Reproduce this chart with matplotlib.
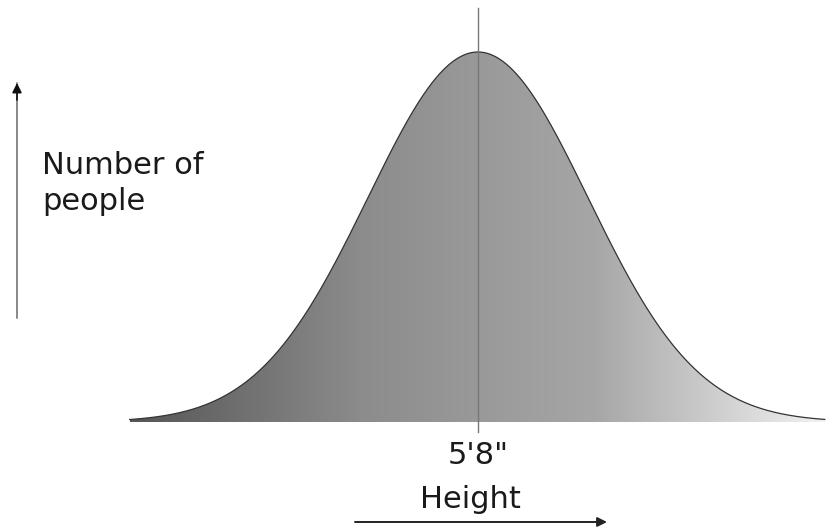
import numpy as np
import matplotlib
matplotlib.use("Agg")
import matplotlib.pyplot as plt
from matplotlib.patches import Polygon

# Height distribution parameters (inches)
mean_height = 68.0          # 5'8"
sd_height = 3.0
x_min, x_max = 58.5, 77.46
center_label = "5'8\""
x_label = "Height"
y_label = "Number of\npeople"

W, H = 834, 529
fig = plt.figure(figsize=(W / 100, H / 100), dpi=100)
ax = fig.add_axes([0, 0, 1, 1])
ax.set_xlim(54.965, 54.965 + W / 36.667)
ax.set_ylim(-(H - 422) / 370, 422 / 370)
ax.axis("off")

x = np.linspace(x_min, x_max, 600)
y = np.exp(-0.5 * ((x - mean_height) / sd_height) ** 2)

# gradient fill clipped to the curve
verts = np.column_stack([np.r_[x, x[::-1]], np.r_[y, np.zeros_like(y)]])
poly = Polygon(verts, closed=True, facecolor="none", edgecolor="none")
ax.add_patch(poly)
grad = np.linspace(0, 1, 512)[None, :]
cmap = matplotlib.colors.LinearSegmentedColormap.from_list(
    "g", ["#565656", "#8c8c8c", "#a6a6a6", "#f2f2f2"])
im = ax.imshow(grad, extent=[x_min, x_max, 0, 1.0], aspect="auto",
               cmap=cmap, origin="lower", zorder=1, interpolation="bilinear")
im.set_clip_path(poly)

ax.plot(x, y, color="#333333", lw=0.9, zorder=2)

# vertical line at the mean
ax.plot([mean_height, mean_height], [-10 / 370, 414 / 370],
        color="#777777", lw=1.0, zorder=3)

# axis arrows
ax.annotate("", xy=(17 / W, 1 - 83 / H), xytext=(17 / W, 1 - 318 / H),
            xycoords="figure fraction", textcoords="figure fraction",
            arrowprops=dict(arrowstyle="-", color="#888888", lw=1.4,
                            shrinkA=0, shrinkB=0))
ax.annotate("", xy=(17 / W, 1 - 83 / H), xytext=(17 / W, 1 - 100 / H),
            xycoords="figure fraction", textcoords="figure fraction",
            arrowprops=dict(arrowstyle="-|>", color="#111111", lw=1.2,
                            mutation_scale=14, shrinkA=0, shrinkB=0))
ax.annotate("", xy=(607 / W, 1 - 522 / H), xytext=(355 / W, 1 - 522 / H),
            xycoords="figure fraction", textcoords="figure fraction",
            arrowprops=dict(arrowstyle="-|>", color="#222222", lw=1.4,
                            mutation_scale=14, shrinkA=0, shrinkB=0))

fig.text(42 / W, 1 - 151 / H, y_label, fontsize=22, color="#1a1a1a",
         va="top", ha="left", linespacing=1.32)
ax.text(mean_height, -(455 - 422) / 370, center_label, fontsize=22,
        color="#1a1a1a", ha="center", va="center")
fig.text(470 / W, 1 - 500 / H, x_label, fontsize=22, color="#1a1a1a",
         ha="center", va="center")

fig.savefig("out.png", dpi=100, facecolor="white")
